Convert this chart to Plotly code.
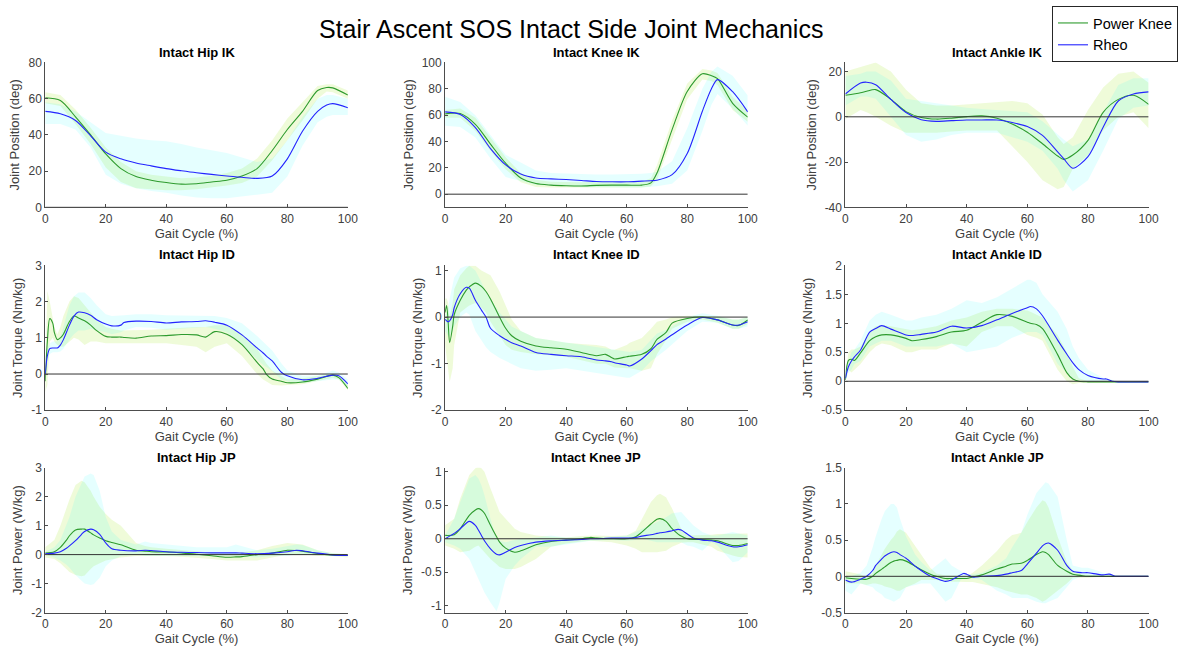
import plotly.graph_objects as go

# ---------------- DATA ----------------
FIG_TITLE = "Stair Ascent SOS Intact Side Joint Mechanics"
SERIES = ["Power Knee", "Rheo"]
X_TICKS = [0, 20, 40, 60, 80, 100]

# Intact Hip IK
hipik_x = [0, 5, 10, 15, 20, 25, 30, 35, 40, 45, 50, 55, 60, 65, 70, 75, 80, 85, 90, 93, 95, 100]
hipik_pk = [60.5, 59, 50, 40, 29.5, 21.4, 17, 15, 13.7, 12.8, 13, 14, 15, 17.3, 21.4, 31.4, 43, 53, 64.5, 66.2, 66, 62]
hipik_pk_hi = [63.5, 62, 54, 44, 33, 25, 20, 18, 17, 16, 16.5, 17.5, 19, 21.5, 27, 37, 49, 58, 67, 68, 68, 64.5]
hipik_pk_lo = [57.5, 56, 46, 35, 22, 14, 10.5, 10, 9.5, 9.5, 10, 11, 12, 13.5, 17, 26, 37, 48, 60, 64, 63.5, 60]
hipik_rh = [53, 51.7, 48, 39.5, 30.5, 26.8, 24.5, 22.9, 21.4, 20.2, 19.1, 18.2, 17.3, 16.6, 16, 17.3, 26.8, 42, 53, 56.5, 57.3, 55]
hipik_rh_hi = [58, 57, 53, 47, 41, 39.5, 38, 37, 36.5, 35, 33, 31.5, 30, 27.5, 25, 27, 37, 50, 60, 62, 62, 60]
hipik_rh_lo = [46, 46, 43, 33, 18, 13, 10.5, 9, 8, 6.5, 5.5, 5, 5, 6, 7, 8, 17, 34, 47, 50, 51, 51]

# Intact Knee IK
kneeik_x = [0, 5, 10, 15, 20, 25, 30, 35, 40, 45, 50, 55, 60, 65, 68, 70, 75, 80, 85, 88, 90, 95, 100]
kneeik_pk = [61, 61.2, 53, 38, 23.5, 12.3, 8.1, 6.9, 6.4, 6.2, 6.7, 6.9, 6.9, 6.9, 8.6, 16, 49, 78, 91.4, 90, 87.7, 69, 58.5]
kneeik_pk_hi = [64, 65, 58, 43, 28, 16, 11, 9.5, 9, 9, 9.5, 9.5, 9.5, 9.5, 12, 22, 56, 84, 95, 94, 92, 74, 63]
kneeik_pk_lo = [58, 58, 48, 33, 19, 9, 5.5, 5, 4.5, 4.5, 5, 5, 5, 5, 6, 11, 42, 72, 87, 86, 83, 64, 55]
kneeik_rh = [62.5, 60.5, 50.6, 34.6, 22.2, 15.3, 12.3, 11.6, 11.1, 10.4, 9.6, 9.4, 9.4, 9.9, 10.2, 10.6, 14.8, 30.9, 63, 80, 87, 77.8, 62.5]
kneeik_rh_hi = [74, 70, 60, 45, 30, 24, 18, 16, 15.5, 15, 15, 15, 15, 15.5, 16, 17, 25, 50, 80, 93, 97, 90, 75]
kneeik_rh_lo = [52, 51, 43, 27, 13, 10, 7, 6.5, 6, 5.5, 5.5, 5, 5, 5, 5.5, 6, 8, 18, 48, 68, 76, 65, 52]

# Intact Ankle IK
ankik_x = [0, 5, 7, 10, 15, 20, 25, 30, 35, 40, 45, 50, 55, 60, 65, 70, 72, 75, 80, 85, 90, 95, 100]
ankik_pk = [9.5, 10.6, 11.3, 12, 7.7, 2.3, -0.3, -1, -0.6, 0.1, 0.4, -0.6, -3.2, -6.8, -11.9, -17.3, -18.8, -16.9, -10.4, 2, 7.7, 9.5, 5.5]
ankik_pk_hi = [20, 22, 23, 24, 20, 12, 6, 5, 5, 5.5, 6, 6.5, 7, 6, 1, -9, -12, -9, 3, 13, 19, 20, 15]
ankik_pk_lo = [-1, 3, 2, 0, -4, -7, -7, -7, -6.5, -6, -6, -6, -13, -20, -28, -32, -31, -23, -17, -6, 0, 2, -5]
ankik_rh = [10.1, 14.9, 15.3, 14.2, 7.7, 1.9, -1.3, -2, -1.7, -1.4, -1.4, -1.4, -2.5, -4.3, -8.2, -15.5, -18.5, -22.7, -17.6, -4.6, 7, 10.1, 11]
ankik_rh_hi = [18, 19, 20, 20, 16, 8, 7, 6, 5, 4, 3.5, 3, 2.5, 2, -2, -8, -10, -13, -10, 2, 14, 17, 17]
ankik_rh_lo = [5, 9, 9, 8, 0, -8, -11, -10, -8, -7, -7, -7, -9, -11, -15, -23, -28, -33, -28, -15, -1, 4, 5]

# Intact Hip ID
hipid_x = [0, 0.7, 1.5, 2.5, 3, 4, 5, 6, 8, 9.5, 11, 13, 15, 17, 20, 22, 25, 26, 30, 35, 40, 45, 50, 53, 56, 60, 65, 70, 72, 73, 75, 78, 80, 85, 90, 95, 97, 100]
hipid_pk = [-0.2, 0.9, 1.53, 1.4, 1.15, 0.95, 1.0, 1.1, 1.45, 1.6, 1.55, 1.47, 1.35, 1.2, 1.04, 1.02, 1.02, 1.01, 0.99, 1.05, 1.06, 1.09, 1.08, 1.02, 1.17, 1.1, 0.81, 0.32, 0.14, 0.0, -0.14, -0.2, -0.24, -0.22, -0.14, -0.03, -0.1, -0.4]
hipid_pk_hi = [0.0, 2.3, 2.0, 1.6, 1.3, 1.1, 1.3, 1.6, 2.0, 2.15, 2.1, 1.9, 1.7, 1.5, 1.3, 1.25, 1.2, 1.2, 1.2, 1.22, 1.25, 1.28, 1.3, 1.3, 1.35, 1.35, 1.1, 0.7, 0.45, 0.3, 0.1, -0.05, -0.15, -0.12, -0.05, 0.0, -0.05, -0.3]
hipid_pk_lo = [-0.5, -0.3, 0.9, 1.0, 0.9, 0.8, 0.75, 0.75, 0.9, 1.0, 0.95, 0.8, 0.9, 0.9, 0.85, 0.85, 0.85, 0.85, 0.85, 0.85, 0.85, 0.8, 0.75, 0.6, 0.75, 0.85, 0.5, 0.0, -0.15, -0.2, -0.3, -0.32, -0.3, -0.28, -0.2, -0.1, -0.15, -0.45]
hipid_rh = [0.0, 0.5, 0.7, 0.72, 0.72, 0.72, 0.8, 0.95, 1.35, 1.6, 1.71, 1.69, 1.62, 1.5, 1.38, 1.33, 1.35, 1.42, 1.46, 1.45, 1.41, 1.44, 1.45, 1.47, 1.43, 1.35, 1.08, 0.72, 0.58, 0.5, 0.36, 0.05, -0.05, -0.16, -0.12, -0.03, -0.05, -0.27]
hipid_rh_hi = [0.1, 0.7, 0.85, 0.9, 0.9, 0.9, 1.0, 1.3, 1.9, 2.15, 2.25, 2.25, 2.1, 1.9, 1.65, 1.6, 1.6, 1.62, 1.65, 1.65, 1.62, 1.62, 1.62, 1.62, 1.6, 1.55, 1.4, 1.05, 0.9, 0.8, 0.65, 0.3, 0.1, -0.05, -0.05, 0.1, 0.05, -0.15]
hipid_rh_lo = [-0.1, 0.3, 0.55, 0.6, 0.6, 0.6, 0.62, 0.7, 0.95, 1.1, 1.2, 1.2, 1.25, 1.2, 1.15, 1.1, 1.15, 1.2, 1.3, 1.28, 1.22, 1.25, 1.28, 1.3, 1.25, 1.15, 0.8, 0.4, 0.25, 0.2, 0.08, -0.15, -0.2, -0.25, -0.2, -0.15, -0.15, -0.35]

# Intact Knee ID
kneeid_x = [0, 0.5, 1, 1.5, 2.5, 3, 5, 7, 8, 10, 12, 13.5, 15, 18, 20, 22, 25, 30, 35, 40, 45, 50, 53, 55, 56, 60, 61, 65, 68, 70, 73, 75, 80, 85, 90, 95, 97, 100]
kneeid_pk = [0.1, 0.25, -0.1, -0.55, -0.2, 0.05, 0.36, 0.58, 0.65, 0.73, 0.66, 0.55, 0.39, 0.0, -0.24, -0.4, -0.52, -0.62, -0.66, -0.69, -0.76, -0.83, -0.8, -0.87, -0.9, -0.85, -0.84, -0.8, -0.68, -0.48, -0.33, -0.13, -0.03, 0.0, -0.06, -0.17, -0.18, -0.06]
kneeid_pk_hi = [0.4, 0.4, 0.3, 0.0, 0.3, 0.6, 0.9, 1.05, 1.1, 1.1, 1.0, 0.95, 0.9, 0.55, 0.25, -0.05, -0.3, -0.45, -0.5, -0.55, -0.58, -0.6, -0.63, -0.7, -0.7, -0.6, -0.55, -0.45, -0.25, -0.1, -0.05, 0.0, 0.03, 0.03, 0.02, -0.05, -0.05, 0.0]
kneeid_pk_lo = [-0.6, -0.8, -1.1, -1.4, -1.1, -0.6, 0.1, 0.2, 0.25, 0.3, 0.2, 0.1, -0.1, -0.4, -0.6, -0.7, -0.75, -0.8, -0.82, -0.85, -0.92, -1.0, -1.0, -1.05, -1.08, -1.1, -1.1, -1.15, -1.1, -0.8, -0.5, -0.25, -0.1, -0.05, -0.12, -0.25, -0.25, -0.15]
kneeid_rh = [-0.05, -0.08, -0.1, -0.08, 0.05, 0.2, 0.5, 0.64, 0.62, 0.36, 0.15, 0.0, -0.24, -0.4, -0.48, -0.55, -0.62, -0.76, -0.8, -0.83, -0.85, -0.92, -0.94, -0.96, -0.98, -1.03, -1.05, -0.9, -0.72, -0.59, -0.47, -0.38, -0.17, -0.01, -0.06, -0.17, -0.17, -0.1]
kneeid_rh_hi = [0.05, 0.1, 0.2, 0.4, 0.7, 0.85, 1.05, 1.1, 1.1, 1.0, 0.75, 0.55, 0.4, 0.1, -0.05, -0.2, -0.3, -0.45, -0.5, -0.55, -0.6, -0.65, -0.68, -0.7, -0.7, -0.75, -0.75, -0.7, -0.5, -0.35, -0.28, -0.2, 0.0, 0.08, 0.03, -0.05, -0.05, 0.0]
kneeid_rh_lo = [-0.3, -0.35, -0.4, -0.4, -0.3, -0.2, 0.0, 0.1, 0.05, -0.3, -0.5, -0.65, -0.75, -0.88, -0.95, -1.0, -1.1, -1.15, -1.13, -1.1, -1.15, -1.2, -1.22, -1.25, -1.26, -1.3, -1.3, -1.15, -0.95, -0.85, -0.7, -0.6, -0.3, -0.1, -0.12, -0.25, -0.25, -0.2]

# Intact Ankle ID
ankid_x = [0, 1, 2, 3, 5, 8, 10, 12, 15, 20, 22, 25, 30, 35, 40, 45, 50, 55, 60, 61, 63, 65, 70, 73, 75, 77, 80, 85, 86, 88, 90, 100]
ankid_pk = [0.02, 0.36, 0.38, 0.36, 0.49, 0.7, 0.77, 0.8, 0.8, 0.74, 0.7, 0.72, 0.77, 0.85, 0.88, 1.02, 1.15, 1.12, 1.02, 1.0, 0.98, 0.91, 0.46, 0.15, 0.04, 0.0, -0.01, -0.01, -0.01, -0.01, -0.01, -0.01]
ankid_pk_hi = [0.05, 0.5, 0.55, 0.55, 0.6, 0.85, 0.95, 0.97, 0.95, 0.9, 0.88, 0.9, 0.95, 1.05, 1.1, 1.2, 1.25, 1.25, 1.22, 1.2, 1.15, 1.1, 0.8, 0.5, 0.25, 0.05, 0.0, 0.0, 0.0, 0.0, 0.0, 0.0]
ankid_pk_lo = [0.0, 0.2, 0.15, 0.2, 0.3, 0.5, 0.6, 0.65, 0.62, 0.5, 0.5, 0.55, 0.55, 0.65, 0.6, 0.85, 0.95, 0.95, 0.8, 0.78, 0.75, 0.7, 0.2, 0.0, -0.05, -0.03, -0.02, -0.02, -0.02, -0.02, -0.02, -0.02]
ankid_rh = [0.05, 0.25, 0.35, 0.42, 0.54, 0.85, 0.91, 0.96, 0.9, 0.8, 0.79, 0.81, 0.85, 0.95, 0.92, 0.96, 1.06, 1.17, 1.27, 1.29, 1.25, 1.13, 0.71, 0.47, 0.32, 0.2, 0.1, 0.04, 0.04, 0.0, -0.01, -0.01]
ankid_rh_hi = [0.1, 0.35, 0.5, 0.55, 0.7, 1.05, 1.15, 1.2, 1.15, 1.05, 1.05, 1.1, 1.15, 1.25, 1.4, 1.35, 1.45, 1.6, 1.75, 1.75, 1.7, 1.5, 1.2, 0.9, 0.6, 0.4, 0.2, 0.06, 0.05, 0.02, 0.0, 0.0]
ankid_rh_lo = [0.0, 0.15, 0.2, 0.3, 0.35, 0.6, 0.65, 0.7, 0.7, 0.6, 0.6, 0.6, 0.6, 0.65, 0.5, 0.55, 0.6, 0.75, 0.85, 0.85, 0.85, 0.8, 0.3, 0.15, 0.05, 0.02, 0.0, -0.02, -0.02, -0.02, -0.02, -0.01]

# Intact Hip JP
hipjp_x = [0, 3, 5, 7, 8, 10, 12, 13, 15, 16, 18, 20, 22, 25, 30, 33, 35, 40, 45, 50, 55, 60, 63, 65, 70, 75, 80, 83, 85, 90, 95, 100]
hipjp_pk = [0.05, 0.1, 0.25, 0.5, 0.65, 0.85, 0.88, 0.88, 0.75, 0.68, 0.57, 0.48, 0.42, 0.34, 0.15, 0.12, 0.1, 0.09, 0.06, 0.01, -0.04, -0.09, -0.08, -0.07, 0.0, 0.05, 0.15, 0.14, 0.12, 0.04, -0.02, -0.03]
hipjp_pk_hi = [0.25, 0.5, 1.0, 1.6, 1.9, 2.4, 2.55, 2.5, 2.2, 2.0, 1.65, 1.4, 1.2, 1.0, 0.4, 0.3, 0.25, 0.2, 0.15, 0.1, 0.07, 0.05, 0.06, 0.08, 0.15, 0.3, 0.4, 0.38, 0.35, 0.15, 0.05, 0.0]
hipjp_pk_lo = [-0.1, -0.15, -0.3, -0.5, -0.6, -0.7, -0.75, -0.72, -0.5, -0.4, -0.3, -0.2, -0.15, -0.1, -0.05, -0.05, -0.05, -0.05, -0.07, -0.1, -0.15, -0.2, -0.2, -0.2, -0.2, -0.1, 0.0, 0.0, 0.0, -0.05, -0.05, -0.1]
hipjp_rh = [0.03, 0.05, 0.1, 0.22, 0.3, 0.48, 0.7, 0.8, 0.88, 0.86, 0.7, 0.4, 0.2, 0.15, 0.13, 0.15, 0.14, 0.1, 0.08, 0.07, 0.06, 0.06, 0.06, 0.05, 0.03, 0.05, 0.1, 0.15, 0.13, 0.05, -0.01, -0.03]
hipjp_rh_hi = [0.1, 0.25, 0.5, 1.0, 1.3, 2.0, 2.5, 2.7, 2.8, 2.75, 2.2, 1.3, 0.8, 0.5, 0.35, 0.45, 0.4, 0.35, 0.3, 0.25, 0.25, 0.25, 0.35, 0.3, 0.15, 0.2, 0.3, 0.35, 0.33, 0.15, 0.05, 0.02]
hipjp_rh_lo = [0.0, -0.1, -0.2, -0.35, -0.45, -0.7, -0.9, -1.0, -1.05, -1.02, -0.8, -0.4, -0.2, -0.05, 0.0, -0.05, -0.05, -0.05, -0.05, -0.05, -0.05, -0.05, -0.05, -0.05, -0.1, -0.05, -0.05, 0.0, 0.0, -0.02, -0.03, -0.05]

# Intact Knee JP
kneejp_x = [0, 3, 5, 8, 10, 11, 12, 13, 15, 17, 18, 20, 23, 25, 30, 35, 40, 45, 48, 50, 55, 60, 63, 65, 68, 70, 71, 73, 75, 77, 78, 80, 82, 85, 88, 90, 95, 97, 100]
kneejp_pk = [0.05, 0.06, 0.15, 0.35, 0.43, 0.45, 0.43, 0.38, 0.2, 0.03, -0.05, -0.14, -0.2, -0.18, -0.09, -0.04, -0.02, 0.0, 0.02, 0.01, 0.0, 0.0, 0.03, 0.1, 0.22, 0.29, 0.3, 0.26, 0.15, 0.07, 0.04, 0.0, -0.01, -0.01, -0.02, -0.03, -0.1, -0.1, -0.07]
kneejp_pk_hi = [0.2, 0.3, 0.6, 0.95, 1.05, 1.08, 1.05, 1.0, 0.75, 0.5, 0.4, 0.3, 0.15, 0.1, 0.05, 0.03, 0.02, 0.04, 0.05, 0.05, 0.04, 0.05, 0.12, 0.3, 0.55, 0.65, 0.67, 0.62, 0.45, 0.25, 0.15, 0.05, 0.05, 0.05, 0.06, 0.07, 0.08, 0.08, 0.08]
kneejp_pk_lo = [-0.1, -0.15, -0.2, -0.18, -0.12, -0.1, -0.15, -0.2, -0.3, -0.38, -0.42, -0.45, -0.45, -0.42, -0.3, -0.12, -0.07, -0.04, -0.03, -0.03, -0.05, -0.1, -0.15, -0.2, -0.2, -0.2, -0.2, -0.18, -0.12, -0.08, -0.06, -0.05, -0.05, -0.08, -0.12, -0.18, -0.25, -0.27, -0.28]
kneejp_rh = [0.0, 0.08, 0.15, 0.26, 0.2, 0.13, 0.05, -0.03, -0.15, -0.23, -0.24, -0.2, -0.13, -0.1, -0.05, -0.03, -0.02, -0.01, 0.0, 0.0, 0.01, 0.01, 0.02, 0.04, 0.06, 0.08, 0.09, 0.1, 0.12, 0.14, 0.13, 0.07, 0.01, -0.02, -0.03, -0.05, -0.12, -0.12, -0.09]
kneejp_rh_hi = [0.05, 0.3, 0.55, 0.9, 0.95, 0.9, 0.8, 0.65, 0.3, 0.0, -0.03, -0.05, -0.02, 0.0, 0.02, 0.05, 0.02, 0.02, 0.02, 0.02, 0.03, 0.05, 0.1, 0.15, 0.2, 0.25, 0.27, 0.32, 0.38, 0.4, 0.4, 0.3, 0.2, 0.1, 0.05, 0.05, 0.1, 0.08, 0.05]
kneejp_rh_lo = [-0.05, -0.1, -0.15, -0.3, -0.5, -0.6, -0.7, -0.8, -0.95, -1.08, -0.95, -0.6, -0.4, -0.3, -0.12, -0.12, -0.08, -0.05, -0.03, -0.03, -0.02, -0.03, -0.02, 0.0, -0.03, -0.05, -0.05, -0.05, -0.05, -0.05, -0.05, -0.1, -0.12, -0.18, -0.05, -0.1, -0.35, -0.33, -0.2]

# Intact Ankle JP
ankjp_x = [0, 2, 5, 7, 9, 10, 12, 13, 15, 16, 17, 18, 20, 23, 25, 28, 30, 33, 35, 38, 39, 40, 42, 45, 50, 53, 55, 58, 60, 63, 65, 66, 67, 70, 73, 75, 78, 80, 83, 85, 87, 89, 90, 100]
ankjp_pk = [-0.02, -0.03, -0.04, -0.04, 0.0, 0.04, 0.1, 0.13, 0.19, 0.21, 0.22, 0.23, 0.21, 0.14, 0.09, 0.03, 0.0, -0.03, -0.03, -0.03, -0.03, -0.03, -0.01, 0.02, 0.1, 0.14, 0.17, 0.18, 0.22, 0.3, 0.34, 0.33, 0.3, 0.15, 0.07, 0.03, 0.01, 0.0, 0.0, 0.0, 0.0, 0.0, 0.0, 0.0]
ankjp_pk_hi = [0.07, 0.05, 0.03, -0.02, 0.05, 0.15, 0.3, 0.38, 0.5, 0.55, 0.62, 0.65, 0.6, 0.42, 0.3, 0.12, 0.04, 0.01, 0.01, 0.0, 0.0, 0.0, 0.05, 0.15, 0.35, 0.5, 0.57, 0.6, 0.75, 0.95, 1.05, 1.03, 0.95, 0.55, 0.2, 0.08, 0.03, 0.02, 0.01, 0.0, 0.0, 0.0, 0.0, 0.0]
ankjp_pk_lo = [-0.1, -0.1, -0.1, -0.12, -0.1, -0.1, -0.12, -0.14, -0.16, -0.18, -0.2, -0.2, -0.15, -0.1, -0.05, -0.05, -0.05, -0.07, -0.08, -0.08, -0.08, -0.08, -0.08, -0.1, -0.15, -0.2, -0.22, -0.25, -0.25, -0.3, -0.35, -0.33, -0.3, -0.2, -0.1, -0.02, -0.02, -0.02, -0.01, 0.0, 0.0, 0.0, 0.0, 0.0]
ankjp_rh = [-0.05, -0.08, -0.04, 0.0, 0.08, 0.15, 0.24, 0.28, 0.33, 0.34, 0.33, 0.3, 0.25, 0.14, 0.08, 0.0, -0.03, -0.07, -0.05, 0.02, 0.04, 0.03, -0.01, 0.0, 0.01, 0.03, 0.05, 0.08, 0.17, 0.32, 0.42, 0.45, 0.46, 0.36, 0.15, 0.07, 0.05, 0.05, 0.03, 0.02, 0.03, 0.0, 0.0, 0.0]
ankjp_rh_hi = [0.0, 0.0, 0.05, 0.15, 0.4, 0.55, 0.8, 0.9, 1.0, 1.0, 0.95, 0.8, 0.55, 0.3, 0.2, 0.08, 0.15, 0.25, 0.15, 0.07, 0.05, 0.03, 0.03, 0.05, 0.15, 0.25, 0.4, 0.6, 0.85, 1.15, 1.25, 1.3, 1.28, 1.1, 0.5, 0.15, 0.12, 0.12, 0.08, 0.05, 0.04, 0.01, 0.0, 0.0]
ankjp_rh_lo = [-0.2, -0.25, -0.1, -0.12, -0.15, -0.2, -0.25, -0.3, -0.33, -0.35, -0.33, -0.3, -0.15, -0.12, -0.1, -0.1, -0.2, -0.35, -0.3, -0.05, -0.03, -0.02, -0.03, -0.05, -0.2, -0.25, -0.3, -0.3, -0.3, -0.35, -0.37, -0.37, -0.35, -0.3, -0.15, -0.05, 0.0, 0.0, 0.0, 0.0, 0.0, 0.0, 0.0, 0.0]

# Panel titles, axis labels and y ticks
panel_titles = ["Intact Hip IK", "Intact Knee IK", "Intact Ankle IK",
                "Intact Hip ID", "Intact Knee ID", "Intact Ankle ID",
                "Intact Hip JP", "Intact Knee JP", "Intact Ankle JP"]
row_ylabels = ["Joint Position (deg)", "Joint Torque (Nm/kg)", "Joint Power (W/kg)"]
x_label = "Gait Cycle (%)"
y_ranges = [[0, 80], [-10, 100], [-40, 24],
            [-1, 3], [-2, 1.11], [-0.5, 2],
            [-2, 3], [-1.1, 1.06], [-0.5, 1.5]]
y_ticks = [[0, 20, 40, 60, 80], [0, 20, 40, 60, 80, 100], [-40, -20, 0, 20],
           [-1, 0, 1, 2, 3], [-2, -1, 0, 1], [-0.5, 0, 0.5, 1, 1.5, 2],
           [-2, -1, 0, 1, 2, 3], [-1, -0.5, 0, 0.5, 1], [-0.5, 0, 0.5, 1, 1.5]]

panels = [
    (hipik_x, hipik_pk, hipik_pk_hi, hipik_pk_lo, hipik_rh, hipik_rh_hi, hipik_rh_lo),
    (kneeik_x, kneeik_pk, kneeik_pk_hi, kneeik_pk_lo, kneeik_rh, kneeik_rh_hi, kneeik_rh_lo),
    (ankik_x, ankik_pk, ankik_pk_hi, ankik_pk_lo, ankik_rh, ankik_rh_hi, ankik_rh_lo),
    (hipid_x, hipid_pk, hipid_pk_hi, hipid_pk_lo, hipid_rh, hipid_rh_hi, hipid_rh_lo),
    (kneeid_x, kneeid_pk, kneeid_pk_hi, kneeid_pk_lo, kneeid_rh, kneeid_rh_hi, kneeid_rh_lo),
    (ankid_x, ankid_pk, ankid_pk_hi, ankid_pk_lo, ankid_rh, ankid_rh_hi, ankid_rh_lo),
    (hipjp_x, hipjp_pk, hipjp_pk_hi, hipjp_pk_lo, hipjp_rh, hipjp_rh_hi, hipjp_rh_lo),
    (kneejp_x, kneejp_pk, kneejp_pk_hi, kneejp_pk_lo, kneejp_rh, kneejp_rh_hi, kneejp_rh_lo),
    (ankjp_x, ankjp_pk, ankjp_pk_hi, ankjp_pk_lo, ankjp_rh, ankjp_rh_hi, ankjp_rh_lo),
]

# ---------------- STYLE / LAYOUT ----------------
W, H = 1188, 658
FONT = "Liberation Sans, Arial, sans-serif"
AX_COLOR = "#4d4d4d"
TICK_COLOR = "#404040"
PK_LINE = "#2e9b2e"
RH_LINE = "#2424ff"
PK_FILL = "rgba(150,230,0,0.15)"
RH_FILL = "rgba(0,255,255,0.10)"

col_px = [(42.7, 348.7), (447.0, 753.0), (851.7, 1158.3)]
row_px = [(56.7, 204.7), (264.0, 412.0), (470.7, 618.7)]


def fmt(v):
    return "%g" % v


fig = go.Figure()
layout = dict(
    width=W, height=H,
    margin=dict(l=0, r=0, t=0, b=0),
    paper_bgcolor="white", plot_bgcolor="white",
    font=dict(family=FONT, color="#262626", size=12),
    showlegend=True,
    legend=dict(x=1188 / W, xanchor="right", y=1 + 1 / H, yanchor="top",
                bgcolor="white", bordercolor="#262626", borderwidth=1,
                font=dict(family=FONT, size=14.5, color="black"),
                tracegroupgap=0, itemwidth=30),
    annotations=[],
)

for i, (xs, pk, pk_hi, pk_lo, rh, rh_hi, rh_lo) in enumerate(panels):
    r, c = divmod(i, 3)
    n = i + 1
    xa = "x" if n == 1 else f"x{n}"
    ya = "y" if n == 1 else f"y{n}"
    x0, x1 = col_px[c]
    t0, t1 = row_px[r]
    # bands
    fig.add_trace(go.Scatter(x=list(xs) + list(xs)[::-1], y=list(pk_hi) + list(pk_lo)[::-1],
                             fill="toself", fillcolor=PK_FILL, line=dict(width=0),
                             mode="lines", hoverinfo="skip", showlegend=False, xaxis=xa, yaxis=ya))
    fig.add_trace(go.Scatter(x=list(xs) + list(xs)[::-1], y=list(rh_hi) + list(rh_lo)[::-1],
                             fill="toself", fillcolor=RH_FILL, line=dict(width=0),
                             mode="lines", hoverinfo="skip", showlegend=False, xaxis=xa, yaxis=ya))
    # means
    fig.add_trace(go.Scatter(x=xs, y=pk, mode="lines", name=SERIES[0],
                             line=dict(color=PK_LINE, width=1.1, shape="spline", smoothing=0.8),
                             showlegend=(i == 0), legendgroup="pk", xaxis=xa, yaxis=ya))
    fig.add_trace(go.Scatter(x=xs, y=rh, mode="lines", name=SERIES[1],
                             line=dict(color=RH_LINE, width=1.1, shape="spline", smoothing=0.8),
                             showlegend=(i == 0), legendgroup="rh", xaxis=xa, yaxis=ya))
    # zero reference line
    fig.add_trace(go.Scatter(x=[X_TICKS[0], X_TICKS[-1]], y=[0, 0], mode="lines",
                             line=dict(color="#333333", width=1), hoverinfo="skip",
                             showlegend=False, xaxis=xa, yaxis=ya))

    axis_common = dict(showline=True, linecolor=AX_COLOR, linewidth=1, mirror=False,
                       showgrid=False, zeroline=False, ticks="inside", ticklen=3,
                       tickcolor=AX_COLOR, tickfont=dict(family=FONT, size=12, color=TICK_COLOR))
    layout["xaxis" if n == 1 else f"xaxis{n}"] = dict(
        domain=[x0 / W, x1 / W], range=[0, 100], anchor=ya,
        tickvals=X_TICKS, ticktext=[fmt(v) for v in X_TICKS],
        title=dict(text=x_label, font=dict(family=FONT, size=13, color=TICK_COLOR), standoff=1),
        **axis_common)
    layout["yaxis" if n == 1 else f"yaxis{n}"] = dict(
        domain=[1 - t1 / H, 1 - t0 / H], range=y_ranges[i], anchor=xa,
        tickvals=y_ticks[i], ticktext=[fmt(v) for v in y_ticks[i]],
        title=dict(text=row_ylabels[r], font=dict(family=FONT, size=13, color=TICK_COLOR), standoff=5),
        **axis_common)
    layout["annotations"].append(dict(
        text="<b>%s</b>" % panel_titles[i], x=(x0 + x1) / 2 / W, y=1 - (t0 - 1.0) / H,
        xref="paper", yref="paper", xanchor="center", yanchor="bottom", showarrow=False,
        font=dict(family=FONT, size=13, color="black")))

layout["annotations"].append(dict(
    text=FIG_TITLE, x=574 / W, y=1 - 22 / H, xref="paper", yref="paper",
    xanchor="center", yanchor="middle", showarrow=False,
    font=dict(family=FONT, size=25, color="black")))

fig.update_layout(**layout)
fig.write_html("out.html")
